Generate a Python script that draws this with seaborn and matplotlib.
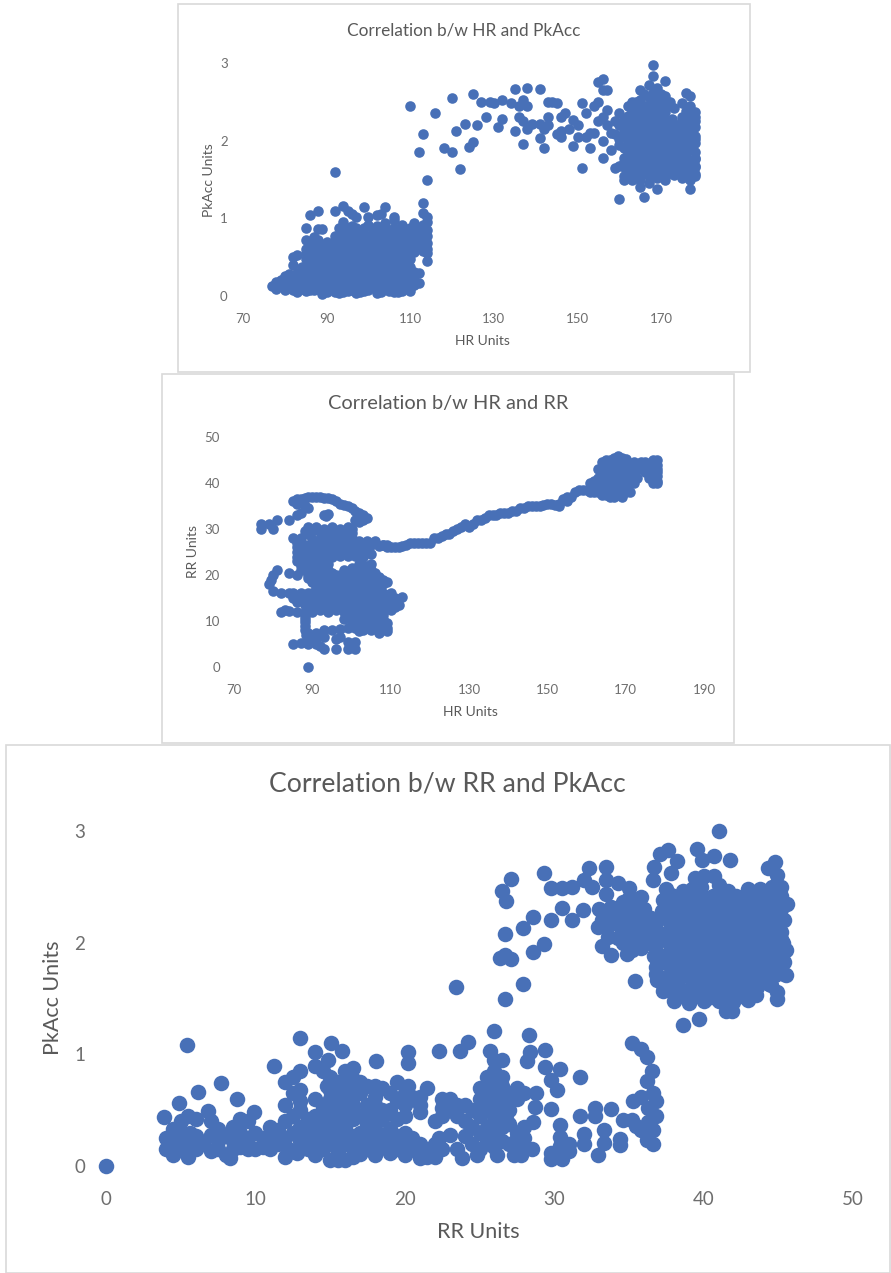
import pandas as pd
import seaborn as sns
import matplotlib.pyplot as plt
from matplotlib.patches import Rectangle

W, H = 891, 1273
BLUE = '#4870B7'
GREY = '#595959'
TICK = '#6e6e6e'

#%% values: (HR, PkAcc)
hr_pk_low = [
    (80,.08),(83,.05),(85,.07),(87,.08),(89,.02),(90,.05),(92,.05),(93,.04),(94,.05),(95,.06),(97,.04),(98,.05),
    (99,.07),(102,.04),(103,.05),(105,.07),(106,.05),(107,.05),(108,.06),(110,.1),
    (77,.13),(79,.15),(81,.13),(83,.14),(85,.12),(87,.14),(89,.12),(91,.13),(93,.14),(95,.12),(97,.13),(99,.14),
    (101,.12),(103,.13),(105,.15),(107,.12),(109,.13),(111,.14),
    (79,.21),(80,.26),(82,.24),(84,.2),(86,.22),(88,.24),(90,.2),(92,.23),(94,.21),(96,.24),(98,.22),(100,.2),
    (102,.23),(104,.21),(106,.24),(108,.22),(110,.2),(112,.3),
    (83,.3),(85,.33),(87,.31),(89,.34),(91,.3),(93,.33),(95,.31),(97,.34),(99,.3),(101,.33),(103,.31),(105,.34),
    (107,.3),(109,.33),(111,.31),
    (82,.4),(87,.41),(89,.43),(91,.4),(93,.44),(95,.41),(97,.43),(99,.4),(101,.44),(103,.41),(105,.43),(107,.4),
    (109,.44),(114,.45),
    (82,.5),(83,.53),(85,.48),(88,.5),(90,.52),(92,.5),(94,.54),(96,.51),(98,.53),(100,.5),(102,.54),(104,.51),
    (106,.53),(108,.5),(110,.54),
    (85,.6),(86,.65),(85,.55),(88,.62),(90,.6),(92,.64),(94,.6),(96,.63),(98,.61),(100,.64),(102,.6),(104,.63),
    (106,.6),(108,.63),(110,.6),(112,.62),(114,.6),
    (85,.72),(88,.72),(90,.7),(93,.7),(95,.74),(97,.71),(99,.73),(101,.7),(103,.74),(105,.71),(107,.73),(109,.7),
    (111,.74),(113,.72),(114,.68),
    (85,.87),(88,.86),(89,.86),(94,.82),(96,.84),(98,.8),(101,.84),(103,.82),(105,.85),(107,.8),(109,.84),(111,.82),
    (113,.83),(114,.85),
    (94,.95),(96,.9),(100,.92),(102,.9),(104,.94),(106,.98),(108,.92),(111,.94),(113,.92),(114,.95),
    (86,1.04),(88,1.09),(92,1.1),(94,1.16),(95,1.1),(96,1.05),(97,1.02),(99,1.15),(100,1.02),(102,1.04),(103,1.05),
    (104,1.14),(106,1.02),(113,1.07),(114,1.02),
]
hr_pk_low_more = [
    (78,.09),(80,.1),(82,.08),(84,.09),(86,.08),(88,.09),(90,.08),(92,.1),(94,.09),(96,.08),(98,.09),(100,.08),
    (102,.1),(104,.09),(106,.08),(108,.1),(110,.07),
    (78,.18),(80,.19),(82,.17),(84,.18),(86,.17),(88,.19),(90,.17),(92,.18),(94,.17),(96,.19),(98,.17),(100,.18),
    (102,.17),(104,.18),(106,.19),(108,.17),(110,.16),(112,.17),
    (81,.28),(83,.26),(85,.27),(87,.26),(89,.28),(91,.26),(93,.27),(95,.26),(97,.28),(99,.26),(101,.27),(103,.26),
    (105,.28),(107,.26),(109,.27),(111,.26),
    (84,.37),(86,.38),(88,.36),(90,.37),(92,.38),(94,.36),(96,.37),(98,.36),(100,.38),(102,.36),(104,.37),(106,.38),
    (108,.36),(110,.37),
    (86,.47),(88,.46),(90,.47),(92,.46),(94,.48),(96,.46),(98,.47),(100,.46),(102,.48),(104,.46),(106,.47),(108,.46),(110,.47),
    (87,.57),(89,.56),(91,.57),(93,.56),(95,.58),(97,.56),(99,.57),(101,.56),(103,.58),(105,.56),(107,.57),(109,.56),
    (111,.57),(113,.58),(114,.55),
    (87,.67),(89,.66),(91,.67),(93,.66),(95,.68),(97,.66),(99,.67),(101,.66),(103,.68),(105,.66),(107,.67),(109,.66),
    (111,.67),(113,.66),
    (87,.76),(92,.77),(94,.76),(96,.78),(98,.76),(100,.77),(102,.76),(104,.78),(106,.76),(108,.77),(110,.78),(112,.76),(114,.77),
    (93,.88),(95,.87),(97,.88),(99,.87),(102,.86),(104,.88),(106,.87),(108,.86),(110,.88),(112,.87),
]
hr_pk_mid = [
    (92,1.6),(110,2.45),(116,2.36),(113,2.08),(112,1.86),(114,1.5),(113,1.2),
    (118,1.9),(120,1.86),(122,1.64),(121,2.13),(120,2.55),(123,2.22),(124,1.92),(125,1.98),(125,2.6),(126,2.2),
    (127,2.5),(128,2.3),(129,2.5),(130,2.48),(131,2.18),(132,2.28),(132,2.53),(134,2.48),(135,2.13),(135,2.66),
    (136,2.45),(136,2.3),(137,1.96),(137,2.53),(138,2.68),(138,2.44),(137,2.25),(138,2.15),(139,2.22),(141,2.66),
    (141,2.22),(141,2.04),(142,1.9),(142,2.15),(143,2.2),(143,2.3),(143,2.5),(144,2.5),(145,2.08),(145,2.48),
    (146,2.05),(146,2.3),(146,2.12),(147,2.35),(148,2.15),(149,2.27),(149,1.93),(150,2.05),(150,2.2),(151,1.65),
    (151,2.48),(152,2.05),(152,2.35),(153,1.9),(153,2.1),(154,2.45),(154,2.1),(155,2.25),(155,2.5),(155,2.75),
    (156,2.8),(156,2.65),(156,2.3),(156,2.0),(156,1.78),(157,2.65),(157,2.2),(158,1.88),(157,2.4),(158,2.1),
    (159,2.25),(159,1.65),
]
hr_pk_high = [
    (160,1.25),(163,1.5),(165,1.4),(166,1.28),(169,1.38),(177,1.38),(168,2.97),(168,2.83),(171,2.77),(169,2.68),
    (167,2.72),(165,2.65),(176,2.62),(177,2.58),(171,2.58),(173,2.42),(175,2.48),
    (161,1.5),(165,1.5),(167,1.46),(169,1.52),(171,1.5),(175,1.52),(177,1.5),(178,1.55),
    (160,1.67),(162,1.6),(164,1.63),(166,1.58),(168,1.62),(170,1.6),(172,1.58),(175,1.63),(177,1.62),(178,1.66),
    (161,1.72),(163,1.74),(165,1.7),(167,1.73),(169,1.7),(171,1.74),(173,1.68),(175,1.72),(177,1.74),(178,1.76),
    (162,1.84),(164,1.82),(166,1.85),(168,1.82),(170,1.85),(172,1.82),(174,1.84),(176,1.85),(178,1.86),
    (160,1.95),(162,1.96),(164,1.94),(166,1.97),(168,1.94),(170,1.96),(172,1.94),(174,1.97),(176,1.95),(178,1.97),
    (159,2.08),(161,2.08),(163,2.06),(165,2.09),(167,2.06),(169,2.08),(171,2.06),(173,2.1),(175,2.07),(177,2.08),(178,2.06),
    (160,2.2),(162,2.18),(164,2.2),(166,2.18),(168,2.21),(170,2.18),(172,2.2),(174,2.18),(176,2.2),(178,2.18),
    (160,2.35),(162,2.32),(164,2.3),(166,2.33),(168,2.3),(170,2.32),(175,2.3),(177,2.33),(178,2.3),
    (162,2.45),(164,2.42),(166,2.45),(168,2.43),(170,2.45),(171,2.42),(177,2.45),
    (165,2.53),(167,2.56),(169,2.54),
]
hr_pk_high_more = [
    (161,1.55),(163,1.56),(165,1.55),(167,1.54),(169,1.56),(171,1.55),(173,1.56),(176,1.55),(178,1.57),
    (161,1.66),(163,1.66),(165,1.65),(167,1.66),(169,1.64),(171,1.66),(176,1.67),(178,1.68),
    (161,1.78),(162,1.79),(164,1.77),(166,1.78),(168,1.77),(170,1.79),(172,1.77),(174,1.78),(176,1.79),(178,1.78),
    (161,1.9),(163,1.89),(165,1.9),(167,1.89),(169,1.91),(171,1.89),(173,1.9),(175,1.89),(177,1.91),
    (160,2.02),(162,2.02),(164,2.01),(166,2.03),(168,2.01),(170,2.02),(172,2.01),(174,2.03),(176,2.01),(178,2.02),
    (161,2.14),(163,2.13),(165,2.14),(167,2.13),(169,2.15),(171,2.13),(173,2.14),(175,2.13),(177,2.15),
    (161,2.27),(163,2.26),(165,2.27),(167,2.25),(169,2.27),(171,2.26),(176,2.27),(178,2.25),
    (163,2.38),(165,2.38),(167,2.37),(169,2.39),(171,2.37),(176,2.38),(178,2.37),
    (163,2.5),(165,2.48),(168,2.5),(170,2.49),(172,2.5),
    (173,1.78),(174,1.7),(176,1.72),(173,1.95),(175,2.0),(177,2.0),(173,2.22),(175,2.25),(177,2.22),(172.5,2.28),
    (174,1.6),(172,1.68),(166,2.6),(168,2.62),(170,2.6),(164,2.5),(167,2.46),(169,2.44),
]

#%% (HR, RR)
hr_rr_low = [
    (85,36),(86,36.5),(87,36.5),(88,36.7),(89,37),(90,37),(91,37),(92,37),(93,36.8),(94,36.8),(95,36.5),(96,36),
    (97,35.5),(98,35.2),(99,35),(100,34.5),(101,34),(102,33.5),(103,33),(103,32),(104,32.3),(102,31.5),(101,32),
    (86,35.5),(88,35),(89,34.5),(86,33),(87,33.5),(93,33),(94,33.3),(93.5,32.8),
    (77,31),(77,30),(79,31),(80,30),(81,32),(84,32),
    (89,30.5),(91,30.5),(93,30),(95,30.5),(97,30),(99,30.5),(100,30),
    (85,28),(87,28),(89,29),(93,28.5),(95,29),(97,28.5),(99,29),(100,28),
    (86,27),(88,26.5),(90,27),(92,26.5),(94,27.5),(96,27),(98,26),(100,27.5),(102,27.5),(104,27.5),(106,27.5),(108,26.5),
    (86,25),(88,25),(90,25),(92,25),(94,25.5),(96,25),(98,25.3),(100,25.5),(102,25.5),(104,25.5),
    (87,23.5),(89,23.5),(91,23),(93,23.5),(95,24),(103,24),(105,24.5),
    (87,22),(89,21.5),(91,21.5),(93,21.5),(102,22.5),(103,22),
    (81,21),(80,20),(79.5,19),(79,18),(84,20.5),(86,20),(87,21),(89,20),(91,20),(93,20),(95,20.5),(97,20),(99,20.5),
    (101,20),(103,20.5),(105,20.5),(107,19.5),
    (91,18),(93,18.5),(95,18),(99,18),(101,18.5),(103,18),(105,18.5),(107,18),(109,18.5),
    (92,16.5),(94,16.5),(96,16.5),(98,16.5),(100,16.5),(102,16.5),(104,16.5),(106,16.5),
    (80,16.5),(82,16),(84,16),(85,16),(87,16),(89,16),(90,16),
    (85,15),(87,14.5),(89,15),(91,15),(93,15),(95,15),(97,15),(99,15),(101,15),(103,15),(105,15),(107,15),(109,15),
    (111,15),(113,15.3),
    (88,13.5),(90,13.5),(92,13.5),(94,14),(96,13.5),(98,13.5),(100,14),(102,13.5),(104,13),(106,13.5),(108,13.5),
    (110,13.5),(112,13.5),
    (82,12),(83,12.3),(84,12.2),(86,12),(88,12),(90,12),(92,12.5),(94,12),(96,12.5),(98,12),(100,12),(102,12),(104,12),
    (106,12),(108,12),(110,12.5),
    (88,10.5),(98,10.5),(100,10.5),(102,10.5),(104,10.5),(106,10.5),(108,10.5),
    (88,9),(100,9),(102,9),(104,9),(106,9),(108,9),
    (88,8),(89,7.5),(91,7.5),(93,8),(95,8),(97,8.2),(99,8.5),(101,8.5),(105,8),(107,8),(109,8.5),
    (89,6.5),(91,6.2),(93,6.5),(96,6),(97,6.5),
    (85,5),(87,5.2),(89,5),(91,5),(92,4.5),(93,4),(96,4),(99,5.5),(101,5.5),(99,4),(101,4),(100,4.5),(89,0),
]
hr_rr_low_more = [
    (88,29.5),(90,29.5),(92,29.3),(94,29.5),(96,29.3),(98,29.5),(100,29.2),
    (90,27.8),(92,27.8),(94,28),(96,27.8),(98,27.8),
    (87,26),(89,26),(91,26),(93,26),(95,26),(97,26),(99,26),(101,26.2),(103,26.3),(105,26.5),(107,26.3),(109,26.5),
    (87,24),(89,24),(91,24.2),(93,24.3),(97,24.2),(99,24.2),(101,24.2),
    (88,22.5),(90,22.5),(92,22.5),(94,22.5),
    (88,21),(90,20.8),(92,20.8),(94,21),(101,21),(103,21.2),(105,21),
    (89,19.3),(91,19.3),(93,19.3),(95,19.3),(97,19.3),(99,19.3),(101,19.3),(103,19.3),(105,19.3),
    (91,17.5),(93,17.3),(95,17.4),(97,17),(101,17.5),(103,17.3),(105,17.5),(107,17.2),
    (91,15.8),(93,15.8),(95,15.8),(97,15.8),(99,15.8),(101,15.8),(103,15.8),(105,15.8),(107,15.8),(109,15.6),
    (86,14.2),(88,14.2),(90,14.2),(92,14.2),(94,14.4),(96,14.2),(98,14.2),(100,14.4),(102,14.2),(104,14.2),(106,14.2),(108,14.2),(110,14.2),
    (89,12.8),(91,12.8),(93,12.8),(95,12.8),(97,12.8),(99,12.8),(101,12.8),(103,12.8),(105,12.8),(107,12.8),(109,12.8),(111,13),
    (100,11.2),(102,11.2),(104,11),(106,11.2),(108,11.2),
    (88,9.7),(100,9.7),(102,9.7),(104,9.7),(106,9.7),(108,9.7),(109,9.5),
    (103,8),(102,7.8),(107,7.5),(109,7.8),(88,11),(88.5,7),
    (96,20),(98,21),(100,21.5),(97,18.5),(98,19),(99,17.5),(97,16),(92,19),(90,18.5),(90,21.5),(86,23),(86,24),
    (86,26),(104,22),(105,22.5),(106,20.5),(108,18),(108,19),(106,18),(106,17),(108,16),(110,16),
]
hr_rr_trend = [
    (110,26),(112,26),(114,26.5),(115,27),(118,27),(120,27),(121,28),(123,28.5),(124,29),(126,29.5),(127,30),(129,31),
    (130,30.5),(131,31),(132,32),(134,32.5),(135,33),(136,33),(138,33.5),(140,33.5),(141,34),(143,34.5),(145,35),
    (147,35),(149,35.2),(151,35.5),(153,35.5),(154,36.5),(155,36),(156,37),(157,38),(158,38.5),(160,38.5),
    (111,26),(113,26.2),(116,27),(117,27),(119,27),(122,28),(125,29),(128,30.5),(133,32),(137,33),(139,33.5),(142,34),
    (144,34.5),(146,35),(148,35),(150,35.5),(152,35.3),(108,26.5),(109,26),(153,35),(155,37),(159,38.5),
]
hr_rr_high = [
    (161,38),(163,38),(165,37.5),(167,37),(169,37),(171,38),(162,39.5),(164,39.5),(166,39),(168,39),(170,39),(172,40),
    (163,41),(165,41),(167,41),(169,41),(171,41),(173,41),(164,42.5),(166,42.5),(168,42.5),(170,42.5),(172,43),(174,43),
    (176,43),(178,43),(164,44.5),(166,44.5),(168,44.5),(170,44.5),(172,44.5),(175,44.5),(177,45),(178,45),(166,45),
    (168,45.8),(170,45.3),(176,41),(177,40),(178,40),(178,41.5),(177,42),(163,43),(165,43.5),
    (162,38),(164,37.5),(166,37),(168,37.5),(170,38),(161,40),(163,40),(165,40),(167,40),(169,40),(171,40),
    (164,41.8),(166,41.8),(168,41.8),(170,41.8),(172,41.8),(165,43.5),(167,43.5),(169,43.5),(171,43.5),(173,43.5),
    (175,43.5),(177,43.5),(178,44),(176,42),(178,42.5),(165,45),(167,45.5),(169,45.5),(171,44.2),(173,44),
    (162,40.5),(164,40.5),(163,39),(165,38.5),(167,38),(169,38),(175,42.5),(177,41),(178,40.5),(176,44),(174,44.5),
]

#%% (RR, PkAcc)
rr_pk_low = [
    (0,0),(5.44,1.08),(3.9,.44),(4.9,.56),(6.15,.66),(7.7,.74),(8.76,.6),(6.8,.49),(9.9,.48),(11.26,.9),(13,1.15),
    (14,1.02),(15.07,1.1),(15.8,1.03),(14.85,.95),(18.1,.94),(20.2,1.02),(20.2,.92),(22.3,1.03),
    (4,.15),(4.5,.1),(5,.14),(5.5,.08),(6,.15),(7,.13),(7.5,.15),(8,.1),(8.3,.07),(9,.17),(10,.15),(10.5,.17),(11,.15),
    (12,.08),(12.2,.15),(13,.15),(14,.1),(15,.05),(15.5,.05),(16,.05),(16.5,.08),(17,.11),(18,.1),(19,.12),(20,.1),
    (21,.07),(21.5,.08),(22,.08),(22.5,.15),
    (4,.25),(4.5,.33),(5,.3),(5.5,.22),(6,.27),(7,.28),(7.5,.33),(8,.27),(8.5,.22),(9,.3),(9.5,.25),(10,.3),(11,.27),
    (12,.25),(13,.22),(14,.2),(15,.2),(16,.2),(17,.18),(18,.22),(19,.2),(20,.2),(21,.2),(22,.2),
    (5,.4),(5.5,.45),(6,.42),(7,.4),(8.5,.35),(9,.42),(9.5,.4),(11,.35),(12,.4),(13,.35),(14,.35),(15,.35),(16,.35),
    (17,.3),(18,.33),(19,.33),(20,.3),(20.5,.25),
    (12,.55),(13,.5),(14,.45),(15,.5),(16,.5),(17,.45),(17.5,.55),(19,.5),(20,.45),(20,.55),(21,.55),
    (12,.75),(12.5,.65),(13,.68),(14,.6),(15,.6),(16,.62),(17,.65),(18,.62),(19,.65),(19.5,.75),(20,.65),(21,.62),(21.5,.7),
    (12.5,.8),(13,.85),(14,.9),(14.5,.85),(15,.8),(16,.85),(16.5,.88),(16,.72),(17,.75),(18,.72),
    (22.5,.6),(23,.5),(22.5,.45),(22,.4),(22.3,.25),(23,.28),(23.5,.15),(23.8,.07),(24.8,.1),(26.2,.1),(27.8,.1),
    (23,.6),(24,.55),(25,.6),(25.5,.65),(26,.7),(27,.65),(27.5,.7),(28,.65),
    (23.5,.45),(24,.4),(25,.45),(26,.5),(26.5,.55),(27,.5),
    (25,.3),(25.5,.35),(26.5,.35),(27,.38),(27.5,.3),(28,.35),
    (24.5,.2),(25,.15),(26,.17),(26.5,.22),(27,.2),(27.5,.15),(28,.17),
    (25.5,.8),(26,.85),(26.5,.8),(26,.95),(26.5,.95),(25.7,1.03),(26.2,.75),
    (26,1.21),(28.3,1.17),(24.2,1.11),(23.7,1.03),(29.4,1.04),(28.4,1.02),(28.2,.94),(29.4,.89),(30.4,.87),(31.7,.8),
    (29.8,.77),(30.2,.68),(28.8,.65),(28.7,.53),(29.8,.51),(31.7,.45),(30.4,.37),(28.6,.39),(32.7,.52),(32.7,.45),
    (33.8,.51),(34.6,.41),(35.2,.41),(35.3,.58),(33.3,.32),(32,.29),(32,.2),(33.3,.21),(32.9,.1),(34.4,.24),(34.4,.19),
    (30.4,.26),(31,.2),(29.8,.12),(29.8,.06),(30.5,.06),(31,.13),(30.4,.18),
    (35.2,1.1),(35.8,1.05),(36.2,.98),(36.55,.85),(36.2,.76),(36.6,.65),(35.8,.62),(36.8,.58),(36.3,.52),(36.8,.45),
    (36.3,.39),(36.6,.32),(35.8,.32),(36.2,.23),(36.6,.2),(35.5,.36),
]
rr_pk_low_more = [
    (4.6,.22),(5.6,.3),(6.5,.2),(7.5,.22),(8.5,.15),(9.5,.15),(10.5,.25),(11.5,.2),(11.5,.32),(12.8,.12),(13.5,.15),
    (14.5,.15),(15.5,.13),(16.5,.15),(17.5,.15),(18.5,.17),(19.5,.15),(20.5,.15),(21.5,.15),
    (12.5,.3),(13.5,.28),(14.5,.28),(15.5,.28),(16.5,.27),(17.5,.25),(18.5,.27),(19.5,.27),(20.8,.13),
    (12.5,.45),(13.5,.42),(14.5,.42),(15.5,.42),(16.5,.42),(17.5,.38),(18.5,.42),(19.5,.42),(21.8,.13),
    (13,.58),(14.5,.53),(15.5,.55),(16.5,.55),(18,.55),(18.5,.5),(19.5,.58),(20.5,.62),(21,.48),
    (15,.68),(15.5,.75),(16.5,.68),(17.5,.72),(18.5,.7),(20.2,.72),
    (22.5,.52),(23.5,.55),(24.5,.5),(25.5,.5),(25.5,.55),(26.5,.65),(25,.7),(26.5,.72),(27.5,.6),(24.5,.35),(26,.4),
    (26.8,.42),(26,.3),(25.5,.22),(24,.27),(28.5,.15),(27.3,.1),(27.5,.25),(28,.25),
    (14,.28),(15,.27),(16,.27),(14,.42),(15,.43),(16,.43),(15.5,.62),(14.8,.72),(16.5,.78),(17.5,.5),(18,.45),
    (26,.62),(25.8,.75),(25,.52),(26.3,.47),(26.8,.58),
]
rr_pk_mid = [
    (23.4,1.6),(26.7,1.5),(27.9,1.63),(35.4,1.66),(26.4,1.86),(27.1,1.85),(26.7,1.89),(28.6,1.92),(29.3,1.99),(26.7,2.08),
    (27.9,2.13),(28.6,2.23),(29.8,2.2),(31.2,2.2),(30.5,2.31),(31.9,2.29),(26.8,2.37),(26.5,2.46),(27.1,2.57),(29.3,2.62),
    (29.8,2.49),(30.5,2.49),(31.2,2.5),(32,2.56),(32.5,2.5),(32.3,2.67),(33.5,2.68),(33.5,2.56),(33.5,2.44),(34.3,2.53),
    (35,2.49),(35.8,2.41),(32.9,2.14),(33.2,1.97),(33.8,1.89),(33.6,2.05),
    (33,2.3),(33.8,2.32),(34.6,2.36),(35.4,2.33),(36,2.3),(33.2,2.2),(34,2.2),(34.8,2.22),(35.6,2.2),(34.6,2.1),(35.4,2.08),
    (36.1,2.1),(34.6,2),(35.2,1.93),(35.8,1.95),(36.4,2),(34.9,1.9),
    (33.5,2.27),(34.3,2.27),(35.1,2.27),(35.9,2.25),(36.5,2.22),(33.6,2.15),(34.4,2.15),(35.2,2.15),(36,2.15),(36.5,2.1),
    (35,2.03),(35.8,2.03),(36.4,2.05),(34.3,2.04),(35,2.4),(34.8,2.3),
]
rr_pk_high = [
    (41,3),(39.55,2.84),(40.7,2.78),(39.9,2.74),(41.8,2.74),(44.75,2.72),(44.3,2.67),(44.9,2.61),(37.6,2.83),(37.1,2.79),
    (38.2,2.73),(36.7,2.68),(37.8,2.62),(36.6,2.56),(38.6,1.26),(39.7,1.32),(41.5,1.39),(41.9,1.39),(44.9,1.5),(44.9,1.56),
    (45.5,1.71),(36.9,1.67),(37.3,1.57),
    (38,1.48),(39,1.46),(40,1.48),(41,1.48),(42,1.47),(43,1.49),
    (37.8,1.57),(38.8,1.55),(39.8,1.57),(40.8,1.55),(41.8,1.56),(42.8,1.56),(43.6,1.6),(44.5,1.62),
    (37.2,1.68),(38.2,1.66),(39.2,1.67),(40.2,1.65),(41.2,1.66),(42.2,1.67),(43.2,1.66),(44.2,1.68),(45.2,1.75),
    (36.8,1.78),(37.8,1.77),(38.8,1.76),(39.8,1.78),(40.8,1.76),(41.8,1.78),(42.8,1.76),(43.8,1.78),(44.8,1.78),(45.4,1.83),
    (36.7,1.88),(37.3,1.88),(38.3,1.86),(39.3,1.88),(40.3,1.87),(41.3,1.86),(42.3,1.88),(43.3,1.87),(44.3,1.88),(45.2,1.9),
    (36.8,1.98),(37.8,1.97),(38.8,1.98),(39.8,1.96),(40.8,1.98),(41.8,1.97),(42.8,1.98),(43.8,1.96),(44.8,1.98),(45.3,2.0),
    (37.2,2.08),(38.2,2.07),(39.2,2.08),(40.2,2.06),(41.2,2.08),(42.2,2.07),(43.2,2.08),(44.2,2.06),(45.2,2.1),
    (36.8,2.18),(37.8,2.17),(38.8,2.18),(39.8,2.16),(40.8,2.18),(41.8,2.17),(42.8,2.18),(43.8,2.16),(44.8,2.18),(45.4,2.2),
    (37.2,2.28),(38.2,2.27),(39.2,2.28),(40.2,2.26),(41.2,2.28),(42.2,2.27),(43.2,2.28),(44.2,2.26),(45.2,2.3),(45.6,2.35),
    (37.3,2.38),(38.3,2.37),(39.3,2.38),(40.3,2.36),(41.3,2.38),(42,2.37),(43.3,2.38),(44.2,2.36),(45.2,2.42),
    (37.5,2.48),(38.6,2.46),(39.2,2.48),(39.8,2.5),(43,2.48),(43.8,2.48),(44.6,2.5),(45.2,2.5),
    (39.4,2.58),(40,2.6),(40.7,2.6),(41,2.52),(41.6,2.46),(42.2,2.42),
]
rr_pk_high_more = [
    (38.5,1.52),(39.5,1.52),(40.5,1.51),(41.5,1.52),(42.5,1.52),(43.5,1.53),
    (37.3,1.62),(38.3,1.62),(39.3,1.61),(40.3,1.62),(41.3,1.61),(42.3,1.62),(43.3,1.61),(44.4,1.63),
    (36.8,1.72),(37.8,1.72),(38.8,1.71),(39.8,1.72),(40.8,1.71),(41.8,1.72),(42.8,1.71),(43.8,1.72),(44.8,1.71),(45.4,1.72),
    (37.3,1.83),(38.3,1.82),(39.3,1.83),(40.3,1.82),(41.3,1.83),(42.3,1.82),(43.3,1.83),(44.3,1.82),(45,1.83),
    (37.8,1.93),(38.8,1.92),(39.8,1.93),(40.8,1.92),(41.8,1.93),(42.8,1.92),(43.8,1.93),(44.8,1.92),(45.5,1.93),
    (37.3,2.03),(38.3,2.02),(39.3,2.03),(40.3,2.02),(41.3,2.03),(42.3,2.02),(43.3,2.03),(44.3,2.02),(45.2,2.03),
    (37.8,2.13),(38.8,2.12),(39.8,2.13),(40.8,2.12),(41.8,2.13),(42.8,2.12),(43.8,2.13),(44.8,2.12),
    (37.3,2.23),(38.3,2.22),(39.3,2.23),(40.3,2.22),(41.3,2.23),(42.3,2.22),(43.3,2.23),(44.3,2.22),(45,2.23),
    (37.8,2.33),(38.8,2.32),(39.8,2.33),(40.8,2.32),(41.8,2.33),(42.8,2.32),(43.8,2.33),(44.8,2.32),
    (37.8,2.43),(38.8,2.42),(39.8,2.43),(40.6,2.42),(41.3,2.42),(43.5,2.43),(44.5,2.42),
    (38.4,1.78),(39.4,1.77),(40.4,1.78),(41.4,1.77),(42.4,1.78),(43.4,1.77),(44.4,1.78),
    (38,1.88),(39,1.88),(40,1.88),(41,1.88),(42,1.88),(43,1.88),(44,1.88),(44.9,1.88),
    (38.4,1.98),(39.4,1.98),(40.4,1.98),(41.4,1.98),(42.4,1.98),(43.4,1.98),(44.4,1.98),
    (38,2.08),(39,2.08),(40,2.08),(41,2.08),(42,2.08),(43,2.08),(44.8,2.08),
    (38.4,2.18),(39.4,2.18),(40.4,2.18),(41.4,2.18),(42.4,2.18),(43.4,2.18),(44.4,2.18),
    (38,2.28),(39,2.28),(40,2.28),(41,2.28),(42,2.28),(43,2.28),(44.8,2.28),
    (38.4,2.38),(39.4,2.38),(40.4,2.38),(42.6,2.38),(43.8,2.38),(44.8,2.4),
]

#%% helpers
def axes_px(left, right, top, bottom):
    return fig.add_axes([left / W, 1 - bottom / H, (right - left) / W, (bottom - top) / H])

def frame_px(left, right, top, bottom):
    fig.add_artist(Rectangle((left / W, 1 - bottom / H), (right - left) / W, (bottom - top) / H,
                             transform=fig.transFigure, facecolor='white', edgecolor='#d9d9d9',
                             linewidth=1.2, zorder=-1))

def draw(ax, groups, xcol, ycol, xlim, ylim, xticks, yticks, s, sizes, pads, title, tpos, xpos, ypos):
    df = pd.DataFrame([p for g in groups for p in g], columns=[xcol, ycol])
    sns.scatterplot(data=df, x=xcol, y=ycol, ax=ax, s=s, color=BLUE, linewidth=0, clip_on=False)
    ax.set_xlim(*xlim)
    ax.set_ylim(*ylim)
    ax.set_xticks(xticks)
    ax.set_yticks(yticks)
    ax.tick_params(axis='x', length=0, pad=pads[0], labelsize=sizes[0], labelcolor=TICK)
    ax.tick_params(axis='y', length=0, pad=pads[1], labelsize=sizes[0], labelcolor=TICK)
    sns.despine(ax=ax, left=True, bottom=True)
    ax.patch.set_alpha(0)
    ax.set_xlabel(xcol, fontsize=sizes[1], color=GREY)
    ax.set_ylabel(ycol, fontsize=sizes[1], color=GREY)
    ax.xaxis.set_label_coords(xpos[0] / W, 1 - xpos[1] / H, transform=fig.transFigure)
    ax.yaxis.set_label_coords(ypos[0] / W, 1 - ypos[1] / H, transform=fig.transFigure)
    ax.xaxis.label.set_verticalalignment('center')
    ax.yaxis.label.set_verticalalignment('center')
    fig.text(tpos[0] / W, 1 - tpos[1] / H, title, fontsize=sizes[2], color=GREY, ha='center', va='center')

#%% plot
sns.set_style('white')
plt.rcParams['font.family'] = ['Lato', 'DejaVu Sans']
fig = plt.figure(figsize=(W / 100, H / 100), dpi=100, facecolor='white')

frame_px(178, 750, 4, 372)
frame_px(162, 734, 374, 743)
frame_px(6, 890, 745, 1273)

ax1 = axes_px(243, 703, 63, 296)
draw(ax1, [hr_pk_low, hr_pk_low_more, hr_pk_mid, hr_pk_high, hr_pk_high_more], 'HR Units', 'PkAcc Units', (70, 180), (0, 3),
     [70, 90, 110, 130, 150, 170], [0, 1, 2, 3], 58, (9.5, 10, 12.4), (12, 11),
     'Correlation b/w HR and PkAcc', (464, 30), (482, 341), (209, 180))

ax2 = axes_px(234, 704, 437, 667)
draw(ax2, [hr_rr_low, hr_rr_low_more, hr_rr_trend, hr_rr_high], 'HR Units', 'RR Units', (70, 190), (0, 50),
     [70, 90, 110, 130, 150, 170, 190], [0, 10, 20, 30, 40, 50], 58, (9.5, 10, 14.4), (12, 10),
     'Correlation b/w HR and RR', (448, 403), (470, 712), (193, 552))

ax3 = axes_px(106, 853, 831, 1166)
draw(ax3, [rr_pk_low, rr_pk_low_more, rr_pk_mid, rr_pk_high, rr_pk_high_more], 'RR Units', 'PkAcc Units', (0, 50), (0, 3),
     [0, 10, 20, 30, 40, 50], [0, 1, 2, 3], 125, (13.5, 15.5, 19.2), (18, 15),
     'Correlation b/w RR and PkAcc', (447, 784), (478, 1232), (53, 998))

plt.savefig('out.png', dpi=100)
